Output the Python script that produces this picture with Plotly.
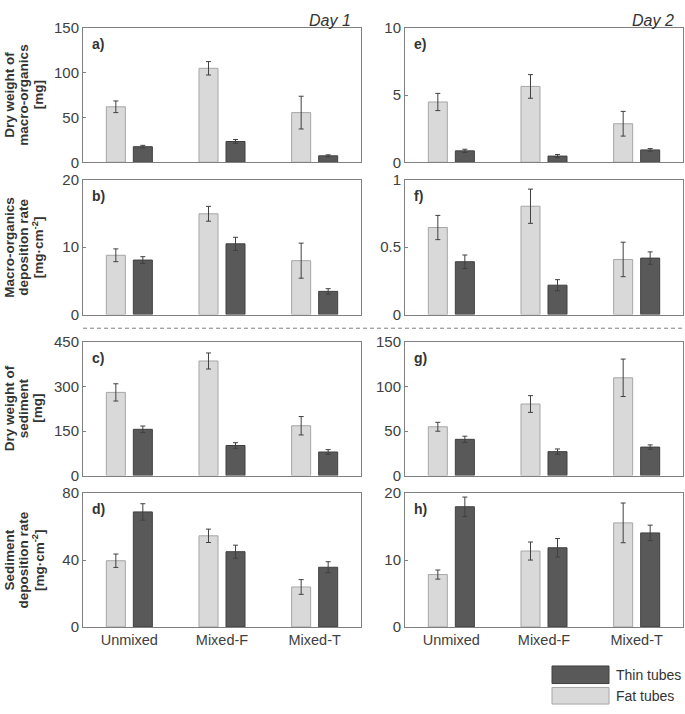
import plotly.graph_objects as go

W, H = 685, 714

categories = ["Unmixed", "Mixed-F", "Mixed-T"]

# Day 1 (left column)
a_fat = [62, 105, 55.5]; a_fat_err = [6.5, 7.5, 18.3]
a_thin = [17.4, 23.2, 7.2]; a_thin_err = [1.5, 2.2, 1.1]
b_fat = [8.8, 14.96, 8.0]; b_fat_err = [0.95, 1.1, 2.6]
b_thin = [8.09, 10.5, 3.44]; b_thin_err = [0.5, 0.97, 0.4]
c_fat = [280, 385.7, 167.8]; c_fat_err = [29, 27, 31]
c_thin = [155.8, 101.3, 79.5]; c_thin_err = [11, 9.5, 8]
d_fat = [39.6, 54.5, 23.9]; d_fat_err = [4.0, 4.0, 4.4]
d_thin = [68.8, 45.0, 35.7]; d_thin_err = [4.9, 3.9, 3.3]

# Day 2 (right column)
e_fat = [4.49, 5.65, 2.87]; e_fat_err = [0.64, 0.88, 0.92]
e_thin = [0.85, 0.46, 0.92]; e_thin_err = [0.12, 0.12, 0.1]
f_fat = [0.646, 0.804, 0.409]; f_fat_err = [0.09, 0.127, 0.128]
f_thin = [0.392, 0.218, 0.419]; f_thin_err = [0.05, 0.041, 0.046]
g_fat = [54.8, 80.3, 109.7]; g_fat_err = [5, 9.4, 21]
g_thin = [40.7, 26.9, 32]; g_thin_err = [3.5, 3, 2.5]
h_fat = [7.83, 11.35, 15.56]; h_fat_err = [0.68, 1.35, 2.97]
h_thin = [17.97, 11.84, 14.06]; h_thin_err = [1.45, 1.38, 1.16]

panels = [
    ("a)", a_fat, a_fat_err, a_thin, a_thin_err, [0, 150], [0, 50, 100, 150], 0, 0),
    ("b)", b_fat, b_fat_err, b_thin, b_thin_err, [0, 20], [0, 10, 20], 1, 0),
    ("c)", c_fat, c_fat_err, c_thin, c_thin_err, [0, 450], [0, 150, 300, 450], 2, 0),
    ("d)", d_fat, d_fat_err, d_thin, d_thin_err, [0, 80], [0, 40, 80], 3, 0),
    ("e)", e_fat, e_fat_err, e_thin, e_thin_err, [0, 10], [0, 5, 10], 0, 1),
    ("f)", f_fat, f_fat_err, f_thin, f_thin_err, [0, 1], [0, 0.5, 1], 1, 1),
    ("g)", g_fat, g_fat_err, g_thin, g_thin_err, [0, 150], [0, 50, 100, 150], 2, 1),
    ("h)", h_fat, h_fat_err, h_thin, h_thin_err, [0, 20], [0, 10, 20], 3, 1),
]

ytitles = [
    ["Dry weight of", "macro-organics", "[mg]"],
    ["Macro-organics", "deposition rate", "[mg·cm<sup>-2</sup>]"],
    ["Dry weight of", "sediment", "[mg]"],
    ["Sediment", "deposition rate", "[mg·cm<sup>-2</sup>]"],
]
title_line_x = [9.5, 23.5, 38]

col_px = [(83, 361), (405, 683)]
row_px = [(19.5, 157), (175, 313), (341, 478), (496, 633)]

FAT_FILL, FAT_LINE = "#d9d9d9", "#a6a6a6"
THIN_FILL, THIN_LINE = "#595959", "#404040"
ERR = "#404040"
AXC = "#808080"
TXT = "#404040"
FONT = "Liberation Sans, Arial, sans-serif"

fig = go.Figure()
layout = {}
annotations = []

for i, (lab, fat, fe, thin, te, yr, tv, r, c) in enumerate(panels):
    n = i + 1
    xa = "x" if n == 1 else f"x{n}"
    ya = "y" if n == 1 else f"y{n}"
    fig.add_trace(go.Bar(
        x=categories, y=fat, xaxis=xa, yaxis=ya, name="Fat tubes",
        marker=dict(color=FAT_FILL, line=dict(color=FAT_LINE, width=1)),
        error_y=dict(type="data", array=fe, color=ERR, thickness=1, width=2.5),
        showlegend=False, offsetgroup="fat"))
    fig.add_trace(go.Bar(
        x=categories, y=thin, xaxis=xa, yaxis=ya, name="Thin tubes",
        marker=dict(color=THIN_FILL, line=dict(color=THIN_LINE, width=1)),
        error_y=dict(type="data", array=te, color=ERR, thickness=1, width=2.5),
        showlegend=False, offsetgroup="thin"))
    x0, x1 = col_px[c]
    y0, y1 = row_px[r]
    xkey = "xaxis" if n == 1 else f"xaxis{n}"
    ykey = "yaxis" if n == 1 else f"yaxis{n}"
    layout[xkey] = dict(
        domain=[x0 / W, x1 / W], anchor=ya, type="category",
        range=[-0.5, 2.5], showline=True, mirror=True, linecolor=AXC, linewidth=1,
        ticks="", showgrid=False, zeroline=False,
        showticklabels=(r == 3),
        tickfont=dict(family=FONT, size=14.5, color=TXT))
    layout[ykey] = dict(
        domain=[1 - y1 / H, 1 - y0 / H], anchor=xa, range=yr,
        tickvals=tv, ticktext=[f"{v:g}" for v in tv],
        showline=True, mirror=True, linecolor=AXC, linewidth=1,
        ticks="inside", ticklen=3, tickcolor=AXC, showgrid=False, zeroline=False,
        tickfont=dict(family=FONT, size=15, color=TXT))
    annotations.append(dict(
        text=f"<b>{lab}</b>", xref=f"{xa} domain", yref=f"{ya} domain",
        x=0, y=1, xanchor="left", yanchor="top", xshift=7, yshift=-6,
        showarrow=False, font=dict(family=FONT, size=14, color="#333333")))
    if c == 0:
        for line_txt, lx in zip(ytitles[r], title_line_x):
            annotations.append(dict(
                text=f"<b>{line_txt}</b>", xref="paper", yref="paper",
                x=lx / W, y=1 - (y0 + y1) / 2 / H, xanchor="center", yanchor="middle",
                textangle=-90, showarrow=False,
                font=dict(family=FONT, size=13.5, color="#333333")))

annotations.append(dict(text="<i>Day 1</i>", xref="paper", yref="paper",
                        x=353 / W, y=1 - 1 / H, xanchor="right", yanchor="top",
                        showarrow=False, font=dict(family=FONT, size=16, color="#333333")))
annotations.append(dict(text="<i>Day 2</i>", xref="paper", yref="paper",
                        x=676 / W, y=1 - 1 / H, xanchor="right", yanchor="top",
                        showarrow=False, font=dict(family=FONT, size=16, color="#333333")))

# custom legend
legend_items = [("Thin tubes", THIN_FILL, THIN_LINE, 673, 691),
                ("Fat tubes", FAT_FILL, FAT_LINE, 695, 712)]
shapes = []
for name, fill, line, t, b in legend_items:
    shapes.append(dict(type="rect", xref="paper", yref="paper",
                       x0=552 / W, x1=609 / W, y0=1 - b / H, y1=1 - t / H,
                       fillcolor=fill, line=dict(color=line, width=1)))
    annotations.append(dict(text=name, xref="paper", yref="paper",
                            x=614 / W, y=1 - (t + b) / 2 / H, xanchor="left", yanchor="middle",
                            showarrow=False, font=dict(family=FONT, size=14, color="#333333")))

shapes.append(dict(type="line", xref="paper", yref="paper",
                   x0=83 / W, x1=684 / W, y0=1 - 327 / H, y1=1 - 327 / H,
                   line=dict(color=AXC, width=1, dash="4px,3px")))

fig.update_layout(
    width=W, height=H, margin=dict(l=0, r=0, t=0, b=0),
    paper_bgcolor="white", plot_bgcolor="white",
    barmode="group", bargap=0.417, bargroupgap=0.296,
    annotations=annotations, shapes=shapes, showlegend=False,
    font=dict(family=FONT, color=TXT),
    **layout)

fig.write_html("out.html",
               config={"displayModeBar": False, "staticPlot": True},
               post_script="document.body.style.margin='0';document.body.style.overflow='hidden';")
